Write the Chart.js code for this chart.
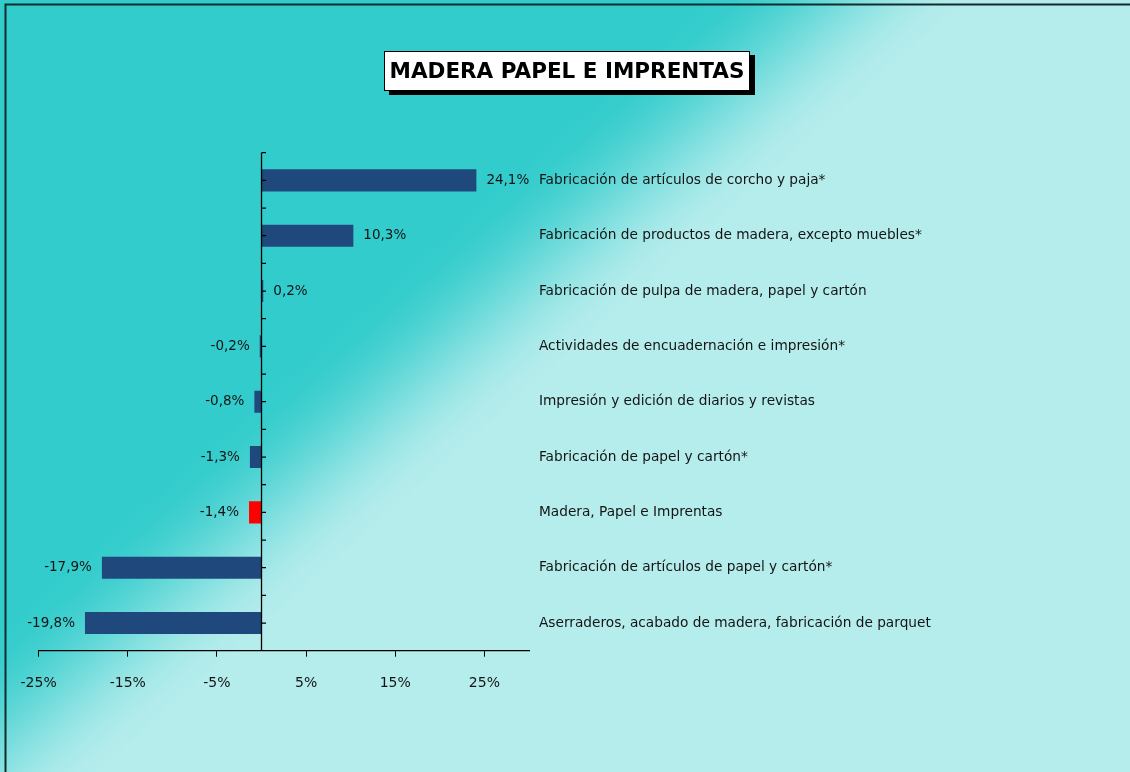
<!DOCTYPE html>
<html><head><meta charset="utf-8">
<script src="https://cdn.jsdelivr.net/npm/chart.js@4.4.1/dist/chart.umd.min.js"></script>
<style>
html,body{margin:0;padding:0;width:1130px;height:772px;overflow:hidden;background:#b5ecec;}
#wrap{position:relative;width:1130px;height:772px;}
canvas{position:absolute;left:0;top:0;}
#title{position:absolute;left:384px;top:51px;width:364px;height:38px;background:#fff;border:1px solid #000;box-shadow:5px 4px 0 #000;font:bold 21.5px "DejaVu Sans";text-align:center;line-height:38px;color:#000;white-space:nowrap;}
</style></head>
<body><div id="wrap"><canvas id="c" width="1130" height="772"></canvas><div id="title">MADERA PAPEL E IMPRENTAS</div></div>
<script>
const categories = [
  "Fabricación de artículos de corcho y paja*",
  "Fabricación de productos de madera, excepto muebles*",
  "Fabricación de pulpa de madera, papel y cartón",
  "Actividades de encuadernación e impresión*",
  "Impresión y edición de diarios y revistas",
  "Fabricación de papel y cartón*",
  "Madera, Papel e Imprentas",
  "Fabricación de artículos de papel y cartón*",
  "Aserraderos, acabado de madera, fabricación de parquet"
];
const values = [24.1, 10.3, 0.2, -0.2, -0.8, -1.3, -1.4, -17.9, -19.8];
const barColors = ["#1f487c","#1f487c","#1f487c","#1f487c","#1f487c","#1f487c","#ff0000","#1f487c","#1f487c"];
const xTickValues = [-25, -15, -5, 5, 15, 25];
const xMin = -25, xMax = 30;

const FONT = "DejaVu Sans";
const TEXT = "#141414";

const bgPlugin = {
  id: 'bg',
  beforeDraw(chart) {
    const ctx = chart.ctx, w = chart.width, h = chart.height;
    ctx.save();
    const len = Math.hypot(1, 1.125);
    const n = [1 / len, 1.125 / len];
    const dm = 840 * n[0];
    const d0 = dm - 85, d1 = dm + 85;
    const g = ctx.createLinearGradient(n[0]*d0, n[1]*d0, n[0]*d1, n[1]*d1);
    const c0 = [51, 204, 204], c1 = [181, 236, 236];
    for (let i = 0; i <= 10; i++) {
      const t = i / 10;
      const s = t * t * (3 - 2 * t);
      const c = c0.map((v, k) => Math.round(v + (c1[k] - v) * s));
      g.addColorStop(t, `rgb(${c[0]},${c[1]},${c[2]})`);
    }
    ctx.fillStyle = g;
    ctx.fillRect(0, 0, w, h);
    ctx.strokeStyle = '#102c2c';
    ctx.lineWidth = 2;
    ctx.beginPath();
    ctx.moveTo(w, 4.5); ctx.lineTo(5.5, 4.5); ctx.lineTo(5.5, h);
    ctx.stroke();
    ctx.restore();
  }
};

const axisPlugin = {
  id: 'zeroAxis',
  afterDatasetsDraw(chart) {
    const ctx = chart.ctx, xs = chart.scales.x, ys = chart.scales.y, ca = chart.chartArea;
    const x0 = xs.getPixelForValue(0);
    ctx.save();
    ctx.strokeStyle = '#000';
    ctx.lineWidth = 1.3;
    ctx.beginPath();
    ctx.moveTo(x0, ca.top); ctx.lineTo(x0, ca.bottom);
    const step = ys.getPixelForValue(1) - ys.getPixelForValue(0);
    for (let i = 0; i < categories.length; i++) {
      const yc = ys.getPixelForValue(i);
      ctx.moveTo(x0, yc); ctx.lineTo(x0 + 4.5, yc);
      const yb = yc - step / 2;
      ctx.moveTo(x0, yb); ctx.lineTo(x0 + 4.5, yb);
    }
    ctx.stroke();
    ctx.fillStyle = TEXT;
    ctx.font = "13.5px '" + FONT + "'";
    ctx.textBaseline = 'middle';
    values.forEach((v, i) => {
      const yc = ys.getPixelForValue(i);
      const xe = xs.getPixelForValue(v);
      const txt = v.toFixed(1).replace('.', ',') + '%';
      if (v >= 0) { ctx.textAlign = 'left'; ctx.fillText(txt, xe + 10, yc); }
      else { ctx.textAlign = 'right'; ctx.fillText(txt, xe - 10, yc); }
    });
    ctx.restore();
  }
};

new Chart(document.getElementById('c'), {
  type: 'bar',
  data: {
    labels: categories,
    datasets: [{
      data: values,
      backgroundColor: barColors,
      borderWidth: 0,
      categoryPercentage: 1,
      barPercentage: 0.4
    }]
  },
  options: {
    indexAxis: 'y',
    responsive: false,
    animation: false,
    devicePixelRatio: 1,
    layout: { padding: { left: 38.6, right: 0, top: 152.7, bottom: 71.3 } },
    plugins: { legend: { display: false }, tooltip: { enabled: false }, title: { display: false } },
    scales: {
      x: {
        type: 'linear', min: xMin, max: xMax,
        afterBuildTicks: s => { s.ticks = xTickValues.map(v => ({ value: v })); },
        grid: { display: true, drawOnChartArea: false, drawTicks: true, tickLength: 6, color: '#000', lineWidth: 1 },
        border: { display: true, color: '#000', width: 1.2 },
        ticks: { padding: 18, color: TEXT, font: { family: FONT, size: 14 }, maxRotation: 0, autoSkip: false,
                 callback: v => v + '%' },
        afterFit: s => { s.height = 50; }
      },
      y: {
        type: 'category', position: 'right', offset: true,
        grid: { display: false, drawTicks: false }, border: { display: false },
        ticks: { padding: 10, color: TEXT, font: { family: FONT, size: 13.7 }, crossAlign: 'near', autoSkip: false },
        afterFit: s => { s.width = 601; }
      }
    }
  },
  plugins: [bgPlugin, axisPlugin]
});
</script>
</body></html>
